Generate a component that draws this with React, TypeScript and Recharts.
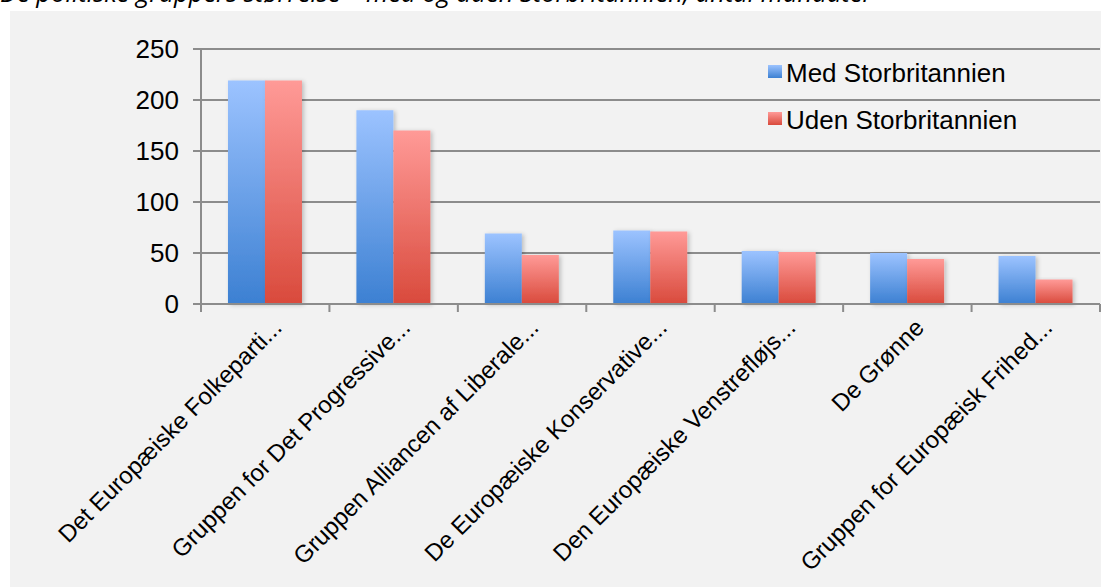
import { BarChart, Bar, XAxis, YAxis, CartesianGrid, Legend } from "recharts";

const categories = [
  "Det Europæiske Folkeparti...",
  "Gruppen for Det Progressive...",
  "Gruppen Alliancen af Liberale...",
  "De Europæiske Konservative...",
  "Den Europæiske Venstrefløjs...",
  "De Grønne",
  "Gruppen for Europæisk Frihed...",
];
const medUK = [219, 190, 69, 72, 52, 50, 47];
const udenUK = [219, 170, 48, 71, 51, 44, 24];
const yTicks = [0, 50, 100, 150, 200, 250];

const seriesNames = ["Med Storbritannien", "Uden Storbritannien"];

const data = categories.map((name, i) => ({
  name,
  med: medUK[i],
  uden: udenUK[i],
}));

const CHART_W = 1091;
const CHART_H = 576;
const Y_AXIS_W = 191;
const RIGHT = 1;
const BAND = (CHART_W - Y_AXIS_W - RIGHT) / categories.length;
const AXIS_COLOR = "#8c8c8c";
const FONT = "'Liberation Sans', Arial, sans-serif";

const XTick = (props: any) => {
  const { x, y, payload, index } = props;
  const ax = x + 18;
  const ay = y + 25;
  return (
    <g>
      <line x1={x - BAND / 2} x2={x - BAND / 2} y1={y} y2={y + 8} stroke={AXIS_COLOR} strokeWidth={2} />
      {index === categories.length - 1 && (
        <line x1={x + BAND / 2} x2={x + BAND / 2} y1={y} y2={y + 8} stroke={AXIS_COLOR} strokeWidth={2} />
      )}
      <text
        x={ax}
        y={ay}
        textAnchor="end"
        transform={`rotate(-45, ${ax}, ${ay})`}
        fontSize={24}
        fontFamily={FONT}
        fill="#000"
      >
        {payload.value}
      </text>
    </g>
  );
};

const LegendBox = () => {
  const swatch = [
    "linear-gradient(#9cc3ff, #3c80d2)",
    "linear-gradient(#ff9a97, #d94a3c)",
  ];
  return (
    <ul style={{ listStyle: "none", margin: 0, padding: 0 }}>
      {seriesNames.map((n, i) => (
        <li key={n} style={{ display: "flex", alignItems: "flex-start", height: 47 }}>
          <span
            style={{
              width: 14,
              height: 13,
              marginTop: 5,
              marginRight: 4,
              background: swatch[i],
              display: "inline-block",
            }}
          />
          <span style={{ fontSize: 26, lineHeight: "26px", fontFamily: FONT, color: "#000", whiteSpace: "nowrap" }}>
            {n}
          </span>
        </li>
      ))}
    </ul>
  );
};

export default function App() {
  return (
    <div
      style={{
        position: "fixed",
        left: 0,
        top: 0,
        width: 1101,
        height: 587,
        overflow: "hidden",
        background: "#fff",
      }}
    >
      {/* title sits mostly above the visible area, as in the original screenshot */}
      <div
        style={{
          position: "absolute",
          left: 0,
          top: -20,
          fontSize: 25.5,
          lineHeight: "25.5px",
          fontStyle: "italic",
          fontFamily: "'Open Sans', sans-serif",
          color: "#000",
          whiteSpace: "nowrap",
        }}
      >
        De politiske gruppers størrelse – med og uden Storbritannien, antal mandater
      </div>
      <div
        style={{
          position: "absolute",
          left: 10,
          top: 11,
          width: CHART_W,
          height: CHART_H,
          background: "#f2f2f2",
        }}
      >
        <BarChart
          width={CHART_W}
          height={CHART_H}
          data={data}
          margin={{ top: 38, right: RIGHT, left: 0, bottom: 0 }}
          barCategoryGap="21%"
          barGap={0}
        >
          <defs>
            <linearGradient id="blueGrad" x1="0" y1="0" x2="0" y2="1">
              <stop offset="0%" stopColor="#9cc3ff" />
              <stop offset="100%" stopColor="#3c80d2" />
            </linearGradient>
            <linearGradient id="redGrad" x1="0" y1="0" x2="0" y2="1">
              <stop offset="0%" stopColor="#ff9a97" />
              <stop offset="100%" stopColor="#d94a3c" />
            </linearGradient>
            <filter id="barShadow" x="-20%" y="-10%" width="150%" height="130%">
              <feDropShadow dx="2" dy="1" stdDeviation="2" floodColor="#000" floodOpacity="0.22" />
            </filter>
          </defs>
          <CartesianGrid vertical={false} stroke={AXIS_COLOR} strokeWidth={2} />
          <XAxis
            dataKey="name"
            interval={0}
            height={283}
            tickLine={false}
            tickSize={0}
            tickMargin={0}
            axisLine={{ stroke: AXIS_COLOR, strokeWidth: 2 }}
            tick={<XTick />}
          />
          <YAxis
            width={Y_AXIS_W}
            domain={[0, 250]}
            ticks={yTicks}
            interval={0}
            tickSize={8}
            tickMargin={14}
            axisLine={{ stroke: AXIS_COLOR, strokeWidth: 2 }}
            tickLine={{ stroke: AXIS_COLOR, strokeWidth: 2 }}
            tick={{ fontSize: 26, fill: "#000", fontFamily: FONT }}
          />
          <Legend
            layout="vertical"
            align="center"
            verticalAlign="middle"
            content={<LegendBox />}
            wrapperStyle={{ position: "absolute", left: 758, top: 49, width: 320, height: 100 }}
          />
          <Bar
            dataKey="med"
            name={seriesNames[0]}
            fill="url(#blueGrad)"
            filter="url(#barShadow)"
            isAnimationActive={false}
          />
          <Bar
            dataKey="uden"
            name={seriesNames[1]}
            fill="url(#redGrad)"
            filter="url(#barShadow)"
            isAnimationActive={false}
          />
        </BarChart>
      </div>
    </div>
  );
}
